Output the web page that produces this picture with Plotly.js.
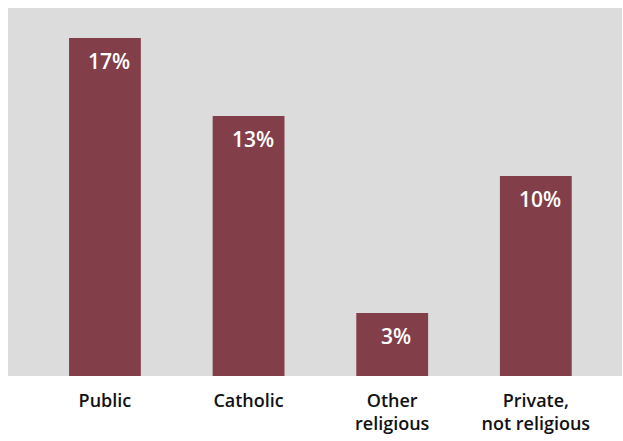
<!DOCTYPE html>
<html>
<head>
<meta charset="utf-8">
<script src="https://cdn.plot.ly/plotly-3.0.1.min.js"></script>
<style>html,body{margin:0;padding:0;background:#fff;}#chart{width:623px;height:441px;}</style>
</head>
<body>
<div id="chart"></div>
<script>
const categories = ["Public", "Catholic", "Other<br>religious", "Private,<br>not religious"];
const values = [16.9, 13, 3.15, 10];
const valueLabels = ["17%", "13%", "3%", "10%"];

const barColor = "#823F4A";

const annotations = categories.map((c, i) => ({
  x: c, y: values[i], xref: "x", yref: "y",
  text: valueLabels[i], showarrow: false,
  yanchor: "top", xanchor: "center", yshift: -7, xshift: 4,
  font: {family: "Open Sans", size: 21, color: "#ffffff", weight: 600}
}));

Plotly.newPlot("chart", [{
  type: "bar",
  x: categories,
  y: values,
  width: 0.5,
  marker: {color: barColor},
  hoverinfo: "none"
}], {
  width: 623, height: 441,
  margin: {l: 8, r: 1, t: 8, b: 65, pad: 0},
  paper_bgcolor: "#ffffff",
  plot_bgcolor: "#DCDCDC",
  showlegend: false,
  xaxis: {
    range: [-0.675, 3.6],
    showgrid: false, zeroline: false, showline: false, ticks: "",
    ticklabelstandoff: 12,
    tickfont: {family: "Open Sans", size: 18, color: "#111111", weight: 600},
    fixedrange: true
  },
  yaxis: {
    range: [0, 18.4],
    showgrid: false, zeroline: false, showline: false, showticklabels: false, ticks: "",
    fixedrange: true
  },
  annotations: annotations
}, {displayModeBar: false, staticPlot: true});
</script>
</body>
</html>
